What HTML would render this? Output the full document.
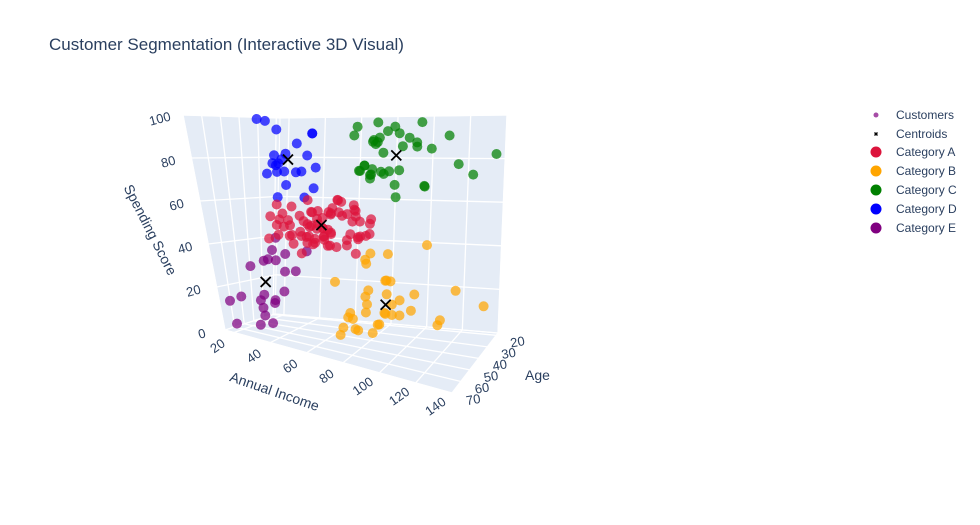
<!DOCTYPE html>
<html><head><meta charset="utf-8">
<style>
html,body{margin:0;padding:0;background:#fff;}
svg{display:block;font-family:"Liberation Sans",Arial,sans-serif;}
</style></head>
<body>
<svg id="chart" width="980" height="525" viewBox="0 0 980 525">
<text x="49" y="50" font-size="17" fill="#2a3f5f">Customer Segmentation (Interactive 3D Visual)</text>
<g id="walls"></g>
<g id="grid"></g>
<g id="ticks"></g>
<g id="points"></g>
<g id="cents"></g>
<text x="0" y="0" font-size="14" fill="#2a3f5f" transform="translate(146,232) rotate(63)" text-anchor="middle">Spending Score</text>
<text x="0" y="0" font-size="14" fill="#2a3f5f" transform="translate(273,396) rotate(19)" text-anchor="middle">Annual Income</text>
<text x="525" y="380" font-size="14" fill="#2a3f5f">Age</text>
<g id="legend">
  <g><circle cx="876" cy="115" r="2.5" fill="#800080" opacity="0.7"/><text x="896" y="119" font-size="12" fill="#2a3f5f">Customers</text></g>
  <g><path d="M874.5 132.5l3 3M877.5 132.5l-3 3" stroke="#000" stroke-width="1.4"/><text x="896" y="138" font-size="12" fill="#2a3f5f">Centroids</text></g>
  <g><circle cx="876" cy="152" r="5.5" fill="#dc143c"/><text x="896" y="156" font-size="12" fill="#2a3f5f">Category A</text></g>
  <g><circle cx="876" cy="171" r="5.5" fill="#ffa500"/><text x="896" y="175" font-size="12" fill="#2a3f5f">Category B</text></g>
  <g><circle cx="876" cy="190" r="5.5" fill="#008000"/><text x="896" y="194" font-size="12" fill="#2a3f5f">Category C</text></g>
  <g><circle cx="876" cy="209" r="5.5" fill="#0000ff"/><text x="896" y="213" font-size="12" fill="#2a3f5f">Category D</text></g>
  <g><circle cx="876" cy="228" r="5.5" fill="#800080"/><text x="896" y="232" font-size="12" fill="#2a3f5f">Category E</text></g>
</g>
</svg>
<script>
const incomeTicks=[20,40,60,80,100,120,140];
const ageTicks=[20,30,40,50,60,70];
const scoreTicks=[0,20,40,60,80,100];

const eIncome=[15,16,18,19,19,20,20,23,24,25,28,28,29,30,33,33,34,37,38,39,39,40];
const eScore=[39,6,6,3,14,15,13,29,35,5,14,32,31,4,4,14,17,26,35,36,28,35];
const eAge=[19,20,35,64,67,58,37,52,35,46,54,45,40,60,53,49,42,36,65,48,49,31];

const dIncome=[15,16,17,18,19,19,20,20,21,23,24,25,28,28,29,30,33,33,34,37,38,39,39];
const dScore=[81,77,76,94,72,99,77,79,66,98,73,73,82,61,87,73,92,81,73,75,92,61,65];
const dAge=[21,23,22,23,30,35,24,22,20,35,25,31,29,35,23,21,18,21,30,20,24,31,24];

const aIncome=[40,40,40,40,42,42,43,43,43,43,44,44,46,46,46,46,47,47,48,48,48,48,49,49,50,50,54,54,54,54,54,54,54,54,57,57,58,58,59,59,60,60,60,60,60,60,61,61,62,62,62,62,62,62,63,63,63,63,63,63,64,64,65,65,65,65,67,67,67,67,69,71,72,76];
const aScore=[55,47,42,42,52,60,54,60,45,41,50,46,51,46,56,55,52,59,51,59,50,48,59,47,55,42,49,56,47,54,53,48,52,42,51,55,41,44,57,46,58,55,60,46,55,41,49,40,42,52,47,50,42,49,41,48,59,55,56,42,46,43,48,52,54,42,46,48,50,43,59,43,57,40];
const aAge=[50,27,29,31,49,33,31,59,50,47,51,69,27,53,70,19,67,54,63,18,43,68,19,32,70,47,60,60,59,26,45,40,23,49,57,38,67,46,21,48,55,22,34,50,68,18,48,40,32,24,47,27,48,20,23,49,67,26,49,21,66,54,68,66,65,19,38,19,18,19,63,49,51,50];

const cIncome=[69,70,71,71,72,73,73,74,75,76,77,77,78,78,78,78,78,78,79,81,85,86,87,87,87,88,88,93,97,98,99,101,103,103,113,120,126,137];
const cScore=[91,77,95,75,75,71,88,73,73,87,97,74,90,88,76,89,78,73,83,93,75,95,63,75,92,86,69,90,86,88,97,68,85,69,91,79,74,83];
const cAge=[39,31,40,38,39,31,29,32,35,32,32,28,32,34,39,38,47,27,30,30,36,33,32,29,30,28,36,32,32,35,32,30,28,36,32,38,31,30];

const bIncome=[70,71,71,73,73,74,75,77,77,78,78,78,78,78,79,81,85,86,87,87,87,88,88,93,97,98,99,101,103,103,113,120,126,137,71,78];
const bScore=[29,11,9,5,7,10,5,12,36,22,17,20,16,1,35,5,26,20,27,13,10,13,15,14,32,15,39,24,17,23,8,16,28,18,35,34];
const bAge=[59,47,42,43,59,58,44,40,42,40,59,43,41,34,45,33,36,36,39,40,47,41,34,44,57,46,19,54,44,41,33,47,45,32,25,20];

const centroidIncome=[55,88,87,26,26];
const centroidAge=[43,41,33,25,45];
const centroidScore=[50,17,82,79,21];

const NS="http://www.w3.org/2000/svg";
const F00=[225,330],F10=[452,393],F01=[183,115],F11=[500,113];
const B00=[275,314],B10=[498,333],B01=[280,118],B11=[507,115];
const INC=[15,140],AGE=[18,70],SC=[0,100];
function bil(p00,p10,p01,p11,i,s){
  return [0,1].map(k=>(1-i)*(1-s)*p00[k]+i*(1-s)*p10[k]+(1-i)*s*p01[k]+i*s*p11[k]);
}
function proj(inc,age,sc){
  const i=(inc-INC[0])/(INC[1]-INC[0]);
  const t=(age-AGE[0])/(AGE[1]-AGE[0]);
  const s=(sc-SC[0])/(SC[1]-SC[0]);
  const f=bil(F00,F10,F01,F11,i,s), b=bil(B00,B10,B01,B11,i,s);
  return [b[0]*(1-t)+f[0]*t, b[1]*(1-t)+f[1]*t];
}
function mk(tag,attrs,parent){const e=document.createElementNS(NS,tag);for(const k in attrs)e.setAttribute(k,attrs[k]);parent.appendChild(e);return e;}
function poly(pts){return pts.map(p=>p[0].toFixed(1)+","+p[1].toFixed(1)).join(" ");}

const walls=document.getElementById('walls');
const floorP=[proj(15,70,0),proj(140,70,0),proj(140,18,0),proj(15,18,0)];
const backP=[proj(15,18,0),proj(140,18,0),proj(140,18,100),proj(15,18,100)];
const leftP=[proj(15,70,0),proj(15,18,0),proj(15,18,100),proj(15,70,100)];
[floorP,backP,leftP].forEach((p,idx)=>{
  const w=mk('polygon',{points:poly(p),fill:'#e5ecf6',stroke:'#fff','stroke-width':1},walls);
  
  
});

const grid=document.getElementById('grid');
function line(a,b,name){
  const l=mk('line',{x1:a[0],y1:a[1],x2:b[0],y2:b[1],stroke:'#fff','stroke-width':1.3},grid);
  
  
}
incomeTicks.forEach(v=>{line(proj(v,70,0),proj(v,18,0),'income-gridline');line(proj(v,18,0),proj(v,18,100),'income-gridline');});
scoreTicks.forEach(v=>{line(proj(15,18,v),proj(140,18,v),'score-gridline');line(proj(15,70,v),proj(15,18,v),'score-gridline');});
ageTicks.forEach(v=>{line(proj(15,v,0),proj(140,v,0),'age-gridline');line(proj(15,v,0),proj(15,v,100),'age-gridline');});

const ticks=document.getElementById('ticks');
function label(txt,x,y,rot,name){
  const t=mk('text',{x:0,y:0,'font-size':13,fill:'#2a3f5f','text-anchor':'middle',transform:`translate(${x.toFixed(1)},${y.toFixed(1)}) rotate(${rot})`},ticks);
  t.textContent=txt;
  
  
}
incomeTicks.forEach(v=>{const p=proj(v,70,0);label(String(v),p[0]-14,p[1]+17,-35,'x-tick-label');});
ageTicks.forEach(v=>{const p=proj(140,v,0);label(String(v),p[0]+22,p[1]+11,-10,'y-tick-label');});
scoreTicks.forEach(v=>{const p=proj(15,70,v);label(String(v),p[0]-22,p[1]+8,-15,'z-tick-label');});

const pts=document.getElementById('points');
const series=[
  ['category-e',eIncome,eAge,eScore,'#800080'],
  ['category-d',dIncome,dAge,dScore,'#0000ff'],
  ['category-a',aIncome,aAge,aScore,'#dc143c'],
  ['category-c',cIncome,cAge,cScore,'#008000'],
  ['category-b',bIncome,bAge,bScore,'#ffa500']
];
series.forEach(([nm,inc,age,sc,col])=>{
  const n=Math.min(inc.length,age.length,sc.length);
  for(let k=0;k<n;k++){
    const p=proj(inc[k],age[k],sc[k]);
    const c=mk('circle',{cx:p[0].toFixed(1),cy:p[1].toFixed(1),r:5,fill:col,'fill-opacity':0.72},pts);
    
    
  }
});

const cents=document.getElementById('cents');
centroidIncome.forEach((v,k)=>{
  const p=proj(v,centroidAge[k],centroidScore[k]);
  const x=mk('path',{d:`M${p[0]-5} ${p[1]-5}L${p[0]+5} ${p[1]+5}M${p[0]+5} ${p[1]-5}L${p[0]-5} ${p[1]+5}`,stroke:'#000','stroke-width':1.8},cents);
  
  
});
</script>
</body></html>
